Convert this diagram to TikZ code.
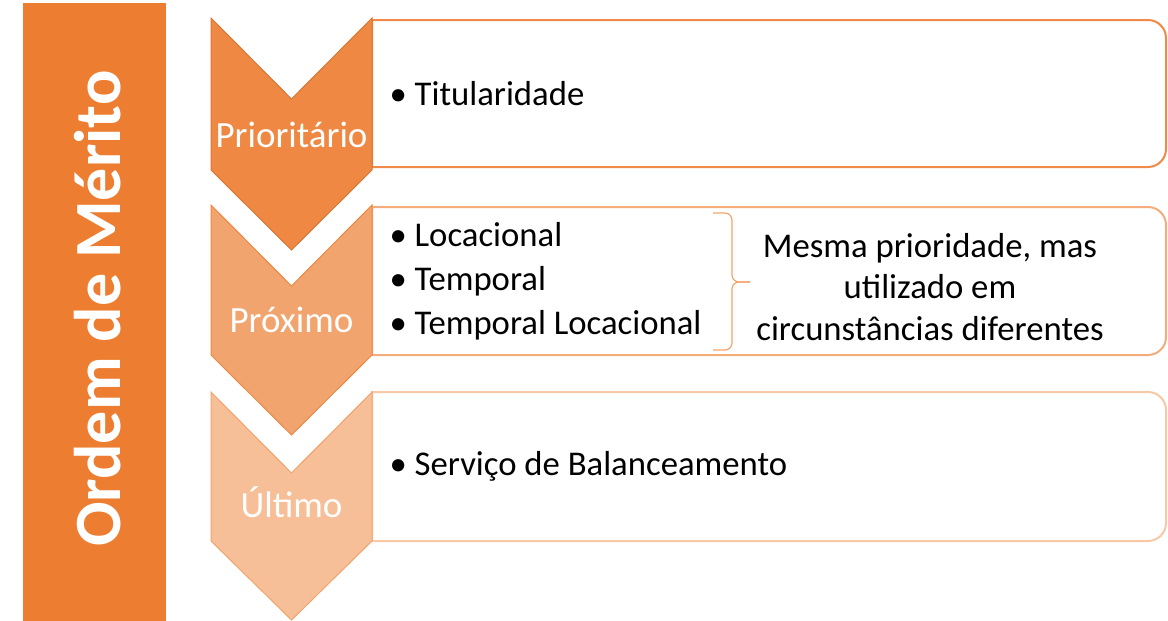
\documentclass[tikz,border=0pt]{standalone}
\usepackage{fontspec}
\setmainfont{Carlito}

\definecolor{barorange}{HTML}{ED7D31}
\definecolor{chevA}{HTML}{EE8842}
\definecolor{chevB}{HTML}{F1A46E}
\definecolor{chevC}{HTML}{F6BF97}
\definecolor{lineA}{HTML}{F08A48}
\definecolor{lineB}{HTML}{F4AC7C}
\definecolor{lineC}{HTML}{F8C8A6}

\tikzset{
    chevlabel/.style={anchor=base, text=white, font=\fontsize{37}{37}\selectfont},
    itemtext/.style={anchor=west, align=left, font=\fontsize{34.7}{44}\selectfont},
}

\begin{document}
\begin{tikzpicture}[x=1pt,y=-1pt]
        \useasboundingbox (0,0) rectangle (1168,621);

        \fill[barorange] (23,3) rectangle (166,621);
        \node[rotate=90, anchor=base, text=white, font=\fontsize{66}{66}\selectfont\bfseries] (title) at (120,308.5) {Ordem de Mérito};

        \draw[lineA, line width=2pt] (372,20) -- (1148,20) arc[start angle=-90, end angle=0, radius=18] -- (1166,149) arc[start angle=0, end angle=90, radius=18] -- (372,167) -- cycle;
        \draw[lineB, line width=2pt] (372,207) -- (1148,207) arc[start angle=-90, end angle=0, radius=18] -- (1166,337) arc[start angle=0, end angle=90, radius=18] -- (372,355) -- cycle;
        \draw[lineC, line width=2pt] (372,392) -- (1148,392) arc[start angle=-90, end angle=0, radius=18] -- (1166,523) arc[start angle=0, end angle=90, radius=18] -- (372,541) -- cycle;

        \filldraw[fill=chevA, draw=barorange!90!black!95, line width=1pt] (211,18) -- (291.5,99) -- (372,18) -- (372,170) -- (291.5,250) -- (211,170) -- cycle;
        \filldraw[fill=chevB, draw=chevA, line width=1pt] (211,205) -- (291.5,286) -- (372,205) -- (372,355) -- (291.5,435) -- (211,355) -- cycle;
        \filldraw[fill=chevC, draw=chevB, line width=1pt] (211,392) -- (291.5,473) -- (372,392) -- (372,541) -- (291.5,620) -- (211,541) -- cycle;

        \node[chevlabel] (prio) at (291.5,147) {Prioritário};
        \node[chevlabel] (prox) at (291.5,332) {Próximo};
        \node[chevlabel] (ult) at (291.5,517) {Último};

        \node[itemtext] (titul) at (386,94) {• Titularidade};
        \node[itemtext] (locais) at (386,281) {• Locacional\\• Temporal\\• Temporal Locacional};
        \node[itemtext] (servico) at (386,466) {• Serviço de Balanceamento};

        % brace next to the three items
        \coordinate (bracetop) at (713,213);
        \coordinate (bracetip) at (750,282);
        \coordinate (bracebot) at (713,350);
        \draw[chevB, line width=1.2pt, rounded corners=7pt] (bracetop) -- (732,213) -- (732,282) -- (bracetip);
        \draw[chevB, line width=1.2pt, rounded corners=7pt] (bracetip) -- (732,282) -- (732,350) -- (bracebot);

        \node[align=center, font=\fontsize{34.7}{41.5}\selectfont] (nota) at (930,287) {Mesma prioridade, mas\\utilizado em\\circunstâncias diferentes};
    \end{tikzpicture}
\end{document}
